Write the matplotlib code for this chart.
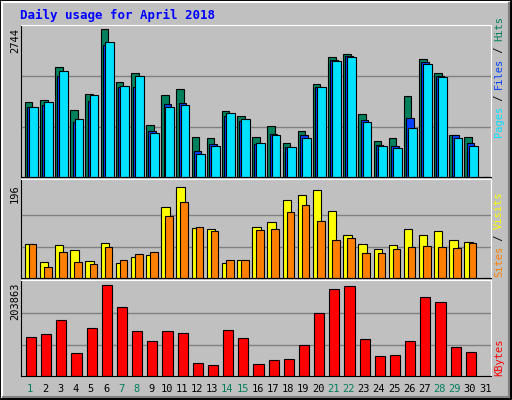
import matplotlib
matplotlib.use('Agg')
import matplotlib.pyplot as plt
import numpy as np

days = list(range(1, 32))
weekend = [1, 7, 8, 14, 15, 21, 22, 28, 29]

hits = [1354, 1396, 1991, 1208, 1499, 2683, 1718, 1882, 935, 1481, 1590, 734, 716, 1190, 1099,
        734, 917, 625, 826, 1681, 2173, 2234, 1135, 662, 716, 1463, 2137, 1882, 771, 734, 0]
files = [1270, 1305, 1833, 989, 1372, 2398, 1627, 1627, 826, 1317, 1335, 467, 595, 1099, 1008,
         607, 789, 552, 771, 1627, 2118, 2197, 1026, 589, 571, 1062, 2088, 1827, 753, 625, 0]
pages = [1263, 1354, 1918, 1044, 1481, 2446, 1645, 1827, 807, 1263, 1299, 425, 571, 1153, 1044,
         625, 771, 552, 716, 1627, 2100, 2173, 989, 571, 534, 898, 2046, 1809, 716, 571, 0]
visits = [70, 33, 68, 58, 35, 72, 31, 43, 47, 148, 189, 103, 101, 31, 37,
          105, 117, 162, 173, 183, 140, 90, 70, 60, 68, 101, 90, 97, 78, 74, 0]
sites = [70, 23, 55, 33, 29, 64, 37, 49, 55, 129, 158, 105, 97, 37, 37,
         99, 101, 138, 152, 119, 80, 84, 53, 53, 60, 64, 66, 64, 62, 72, 0]
kbytes = [84700, 91160, 121300, 50250, 104100, 196700, 149300, 97620, 76090, 97620, 93310, 28710,
          24400, 99770, 82550, 26560, 35170, 37330, 67470, 136400, 188100, 194500, 80390, 43790,
          45940, 76090, 170800, 160100, 63170, 52400, 0]

max_hits = 2744
max_visits = 196
max_kb = 203863

W, H = 512, 400
fig = plt.figure(figsize=(W / 100, H / 100), dpi=100)
fig.patch.set_facecolor('#C0C0C0')
mono = 'DejaVu Sans Mono'

# bevel border
bg = fig.add_axes([0, 0, 1, 1])
bg.set_xlim(0, W)
bg.set_ylim(H, 0)
bg.axis('off')
bg.plot([0, W - 1, W - 1, 0, 0], [0, 0, H - 1, H - 1, 0], color='black', lw=1.5)
bg.plot([2, W - 3], [2, 2], color='white', lw=1.5)
bg.plot([2, 2], [2, H - 3], color='white', lw=1.5)
bg.plot([3, W - 3], [H - 3, H - 3], color='#808080', lw=1.5)
bg.plot([W - 3, W - 3], [3, H - 3], color='#808080', lw=1.5)
bg.text(20, 15, 'Daily usage for April 2018', color='#0000FF', fontsize=9,
        fontweight='bold', family=mono, va='center', ha='left')


def panel(y0, y1):
    ax = fig.add_axes([20.7 / W, 1 - y1 / H, 470 / W, (y1 - y0) / H])
    ax.set_facecolor('#C0C0C0')
    ax.set_xlim(0, 31)
    ax.set_xticks([])
    ax.set_yticks([])
    for s in ax.spines.values():
        s.set_color('black')
    ax.spines['top'].set_color('white')
    ax.spines['right'].set_color('white')
    return ax


x = np.arange(31)
ec = dict(edgecolor='black', linewidth=0.8)

ax1 = panel(25, 177)
ax1.set_ylim(0, max_hits * 1.005)
for g in (max_hits / 3, 2 * max_hits / 3):
    ax1.axhline(g, color='#808080', lw=1, zorder=0)
ax1.bar(x + 0.27, hits, width=0.5, align='edge', color='#00805C', **ec)
ax1.bar(x + 0.42, files, width=0.5, align='edge', color='#0040FF', **ec)
ax1.bar(x + 0.55, pages, width=0.58, align='edge', color='#00E0FF', **ec)

ax2 = panel(179, 278)
ax2.set_ylim(0, max_visits * 1.05)
for g in (max_visits / 3, 2 * max_visits / 3):
    ax2.axhline(g, color='#808080', lw=1, zorder=0)
ax2.bar(x + 0.27, visits, width=0.55, align='edge', color='#FFFF00', **ec)
ax2.bar(x + 0.54, sites, width=0.5, align='edge', color='#FF8000', **ec)

ax3 = panel(280, 376)
ax3.set_ylim(0, max_kb * 1.02)
for g in (max_kb / 3, 2 * max_kb / 3):
    ax3.axhline(g, color='#808080', lw=1, zorder=0)
ax3.bar(x + 0.35, kbytes, width=0.67, align='edge', color='#FF0000', **ec)

# left scale labels
bg.text(15, 28, str(max_hits), rotation=90, ha='center', va='top', fontsize=7.5, family=mono)
bg.text(15, 184, str(max_visits), rotation=90, ha='center', va='top', fontsize=7.5, family=mono)
bg.text(15, 283, str(max_kb), rotation=90, ha='center', va='top', fontsize=7.5, family=mono)

# right legends (drawn bottom to top)
def right_label(y_bottom, parts):
    y = y_bottom
    for txt, col in parts:
        t = bg.text(499, y, txt, rotation=90, ha='center', va='bottom',
                    fontsize=7.5, family=mono, color=col)
        y -= len(txt) * 6.0

right_label(137, [('Pages', '#00E0FF'), (' / ', '#000000'), ('Files', '#0040FF'),
                  (' / ', '#000000'), ('Hits', '#00805C')])
right_label(277, [('Sites', '#FF8000'), (' / ', '#000000'), ('Visits', '#FFFF00')])
right_label(376, [('KBytes', '#FF0000')])

# day labels
for d in days:
    px = 20.7 + (d - 0.5) * 470 / 31 + 2
    bg.text(px, 389, str(d), ha='center', va='center', fontsize=7.5, family=mono,
            color='#00805C' if d in weekend else 'black')

fig.savefig('out.png', dpi=100, facecolor=fig.get_facecolor())
